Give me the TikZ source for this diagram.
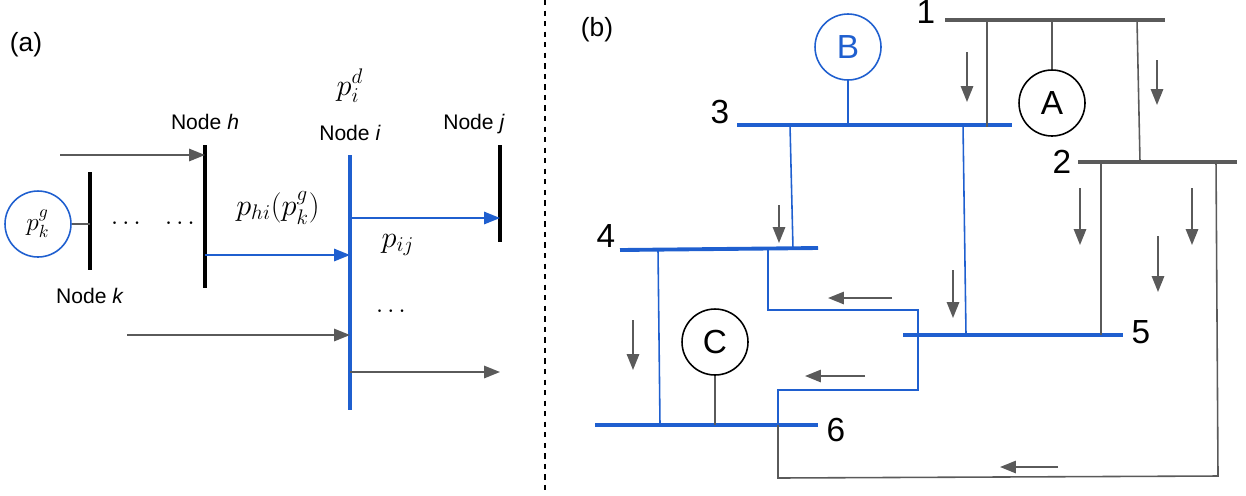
\documentclass[tikz,border=0pt]{standalone}
\usepackage{fontspec}
\setmainfont{Liberation Sans}
\usepackage{amsmath}
\usetikzlibrary{positioning, arrows.meta}
\definecolor{busblue}{HTML}{1F5FCF}
\definecolor{linegray}{HTML}{5A5A5A}
\tikzset{arrow/.style = {linegray, line width=1pt, -{Triangle[length=9pt,width=7pt]}}}

\begin{document}
\begin{tikzpicture}[x=0.02cm, y=-0.02cm]
    \tikzstyle{every node}=[font=\fontsize{12}{14}\selectfont]
    \tikzstyle{bus} = [line width=2.2pt]
    \tikzstyle{wire} = [line width=0.9pt]
    \tikzstyle{gen} = [circle, draw, line width=0.9pt, inner sep=0pt, minimum size=1.32cm]
    \tikzstyle{num} = [font=\fontsize{19}{22}\selectfont]
    \tikzstyle{flow} = [busblue, line width=1pt, -{Triangle[length=9pt,width=7pt]}]

    \useasboundingbox (0,0) rectangle (1246,495);

    % (a)
    \node (la) at (26,45) {\fontsize{15}{18}\selectfont (a)};
    \node[gen, busblue, text=black] (pk) at (38,224) {\Large $p^{g}_{k}$};
    \coordinate (k1) at (90,172); \coordinate (k2) at (90,270);
    \coordinate (h1) at (205,145); \coordinate (h2) at (205,288);
    \coordinate (i1) at (350,155); \coordinate (i2) at (350,410);
    \coordinate (j1) at (500,145); \coordinate (j2) at (500,242);
    \draw[bus] (k1) -- (k2);
    \draw[bus] (h1) -- (h2);
    \draw[bus, busblue] (i1) -- (i2);
    \draw[bus] (j1) -- (j2);
    \draw[linegray, wire] (pk) -- (pk -| k1);
    \node (nk) at (90,296) {Node \textit{k}};
    \node (nh) at (205,122) {Node \textit{h}};
    \node (ni) at (350,133) {Node \textit{i}};
    \node (nj) at (474,124) {Node \textit{j}};
    \node (pd) at (350,86) {\LARGE $p^{d}_{i}$};
    \node (d1) at (128,224) {\Large $\cdots$};
    \node (d2) at (182,224) {\Large $\cdots$};
    \node (d3) at (393,312) {\Large $\cdots$};
    \node (phi) at (278,208) {\LARGE $p_{hi}(p^{g}_{k})$};
    \node (pij) at (398,245) {\LARGE $p_{ij}$};
    \coordinate (s1) at (60,155);
    \coordinate (s2) at (127,335);
    \coordinate (e1) at (500,372);
    \draw[arrow] (s1) -- (s1 -| h1);
    \draw[flow] (205,255) -- (350,255);
    \draw[flow] (350,218) -- (500,218);
    \draw[arrow] (s2) -- (s2 -| i1);
    \draw[arrow] (e1 -| i1) -- (e1);

    \draw[dashed, line width=0.7pt] (545,0) -- (545,495);

    % (b)
    \node (lb) at (597,30) {\fontsize{15}{18}\selectfont (b)};
    \draw[bus, linegray] (945,20) coordinate (b1a) -- (1165,20) coordinate (b1b);
    \draw[bus, linegray] (1078,162) coordinate (b2a) -- (1237,162) coordinate (b2b);
    \draw[bus, busblue] (737,125) coordinate (b3a) -- (1012,125) coordinate (b3b);
    \draw[bus, busblue] (620,250) coordinate (b4a) -- (818,248) coordinate (b4b);
    \draw[bus, busblue] (903,335) coordinate (b5a) -- (1123,335) coordinate (b5b);
    \draw[bus, busblue] (595,425) coordinate (b6a) -- (818,425) coordinate (b6b);
    \node[num] (n1) at (926,12) {1};
    \node[num] (n2) at (1062,162) {2};
    \node[num] (n3) at (720,112) {3};
    \node[num] (n4) at (606,236) {4};
    \node[num] (n5) at (1141,332) {5};
    \node[num] (n6) at (836,430) {6};

    \node[gen, num] (gA) at (1052,103) {A};
    \node[gen, busblue, num] (gB) at (848,47) {B};
    \node[gen, num] (gC) at (715,342) {C};
    \draw[wire, linegray] (gA) -- (gA |- b1a);
    \draw[wire, busblue] (gB) -- (gB |- b3a);
    \draw[wire, linegray] (gC) -- (gC |- b6a);

    % lines
    \draw[wire, linegray] (987,20) -- (987,127);
    \draw[wire, linegray] (1137,20) -- (1140,162);
    \draw[wire, busblue] (790,125) -- (793,249);
    \draw[wire, busblue] (963,125) -- (966,335);
    \draw[wire, linegray] (1101,162) -- (1101,335);
    \draw[wire, busblue] (658,250) -- (660,425);
    \draw[wire, busblue] (768,249) -- (768,310) -- (918,310) -- (918,390) -- (778,390) -- (778,425);
    \draw[wire, linegray] (778,425) -- (778,478) -- (1218,476) -- (1216,162);

    % flows
    \foreach \x/\ya/\yb in {967/52/102, 1157/60/105, 779/205/243, 953/270/318,
                            1080/188/245, 1192/188/245, 1158/236/292, 633/320/370}
        \draw[arrow] (\x,\ya) -- (\x,\yb);
    \foreach \y/\xa/\xb in {298/892/828, 376/865/805, 467/1058/1000}
        \draw[arrow] (\xa,\y) -- (\xb,\y);
\end{tikzpicture}
\end{document}
